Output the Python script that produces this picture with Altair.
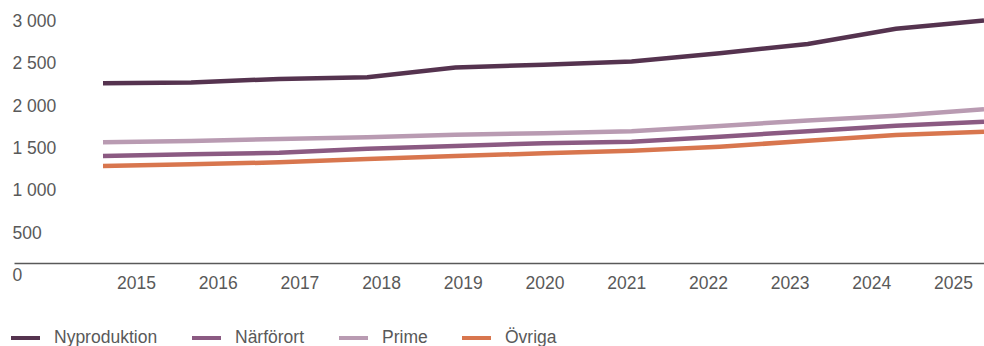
import altair as alt
import pandas as pd

# ---- data ----
years = list(range(2015, 2026))
series = ["Nyproduktion", "Närförort", "Prime", "Övriga"]
nyproduktion = [2271, 2279, 2322, 2342, 2458, 2488, 2527, 2626, 2734, 2914, 3012]
narforort = [1411, 1431, 1450, 1498, 1530, 1562, 1579, 1640, 1703, 1770, 1817]
prime = [1573, 1589, 1612, 1633, 1662, 1680, 1703, 1766, 1831, 1888, 1964]
ovriga = [1293, 1313, 1337, 1376, 1411, 1443, 1473, 1521, 1591, 1660, 1699]
colors = ["#55334f", "#8b5a82", "#b99bb2", "#d8764e"]
y_ticks = [0, 500, 1000, 1500, 2000, 2500, 3000]
x_labels = years

rows = []
for name, vals in zip(series, [nyproduktion, narforort, prime, ovriga]):
    for yr, v in zip(years, vals):
        rows.append({"year": yr, "value": v, "serie": name})
df = pd.DataFrame(rows)
df_years = pd.DataFrame({"year": x_labels})

FONT = "Liberation Sans"
GREY = "#595959"

lines = alt.Chart(df).mark_line(strokeWidth=4.5, strokeCap="butt").encode(
    x=alt.X("year:Q", axis=None,
            scale=alt.Scale(domain=[2015, 2025], range=[89, 970])),
    y=alt.Y("value:Q", title=None,
            scale=alt.Scale(domain=[0, 3000], nice=False, zero=True),
            axis=alt.Axis(values=y_ticks, grid=False, domain=False, ticks=False,
                          labelAlign="left", labelPadding=2, labelFontSize=17.5,
                          labelFont=FONT, labelColor=GREY,
                          labelExpr="replace(format(datum.value, ','), ',', ' ')")),
    color=alt.Color("serie:N", title=None,
                    scale=alt.Scale(domain=series, range=colors),
                    legend=alt.Legend(orient="none", direction="horizontal",
                                      legendX=-5, legendY=300,
                                      symbolType="stroke", symbolSize=841,
                                      symbolStrokeWidth=4, labelOffset=12,
                                      columnPadding=26, labelFontSize=17.5,
                                      labelFont=FONT, labelColor=GREY, padding=0)),
)

xaxis = alt.Chart(df_years).mark_tick(opacity=0).encode(
    x=alt.X("year:Q", title=None,
            scale=alt.Scale(domain=[2013.507, 2025.379], nice=False, zero=False),
            axis=alt.Axis(values=x_labels, format="d", grid=False, ticks=False,
                          domain=True, domainColor=GREY, domainWidth=1.5,
                          offset=-12.5, labelPadding=11, labelFontSize=17.5,
                          labelFont=FONT, labelColor=GREY, labelFlush=False)),
)

chart = alt.layer(xaxis, lines).resolve_scale(x="independent").properties(
    width=970, height=254,
    background="white",
    autosize=alt.AutoSizeParams(type="none"),
    padding={"left": 14, "top": 21.5, "right": 0, "bottom": 70.5},
).configure_view(strokeWidth=0, stroke="transparent")

chart.save("out.html", embed_options={"renderer": "svg", "actions": False})
